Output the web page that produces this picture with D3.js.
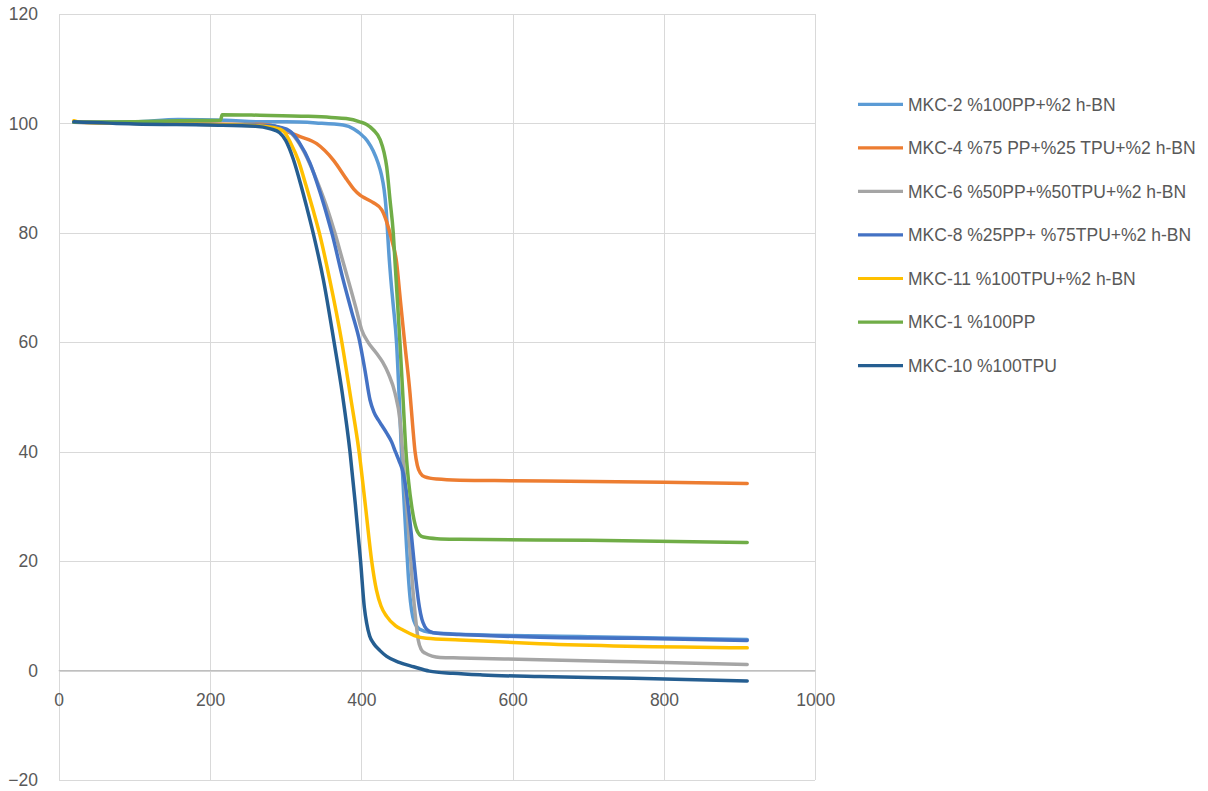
<!DOCTYPE html>
<html>
<head>
<meta charset="utf-8">
<script src="https://cdn.jsdelivr.net/npm/d3@7"></script>
<style>
  html, body { margin: 0; padding: 0; background: #ffffff; }
  svg { display: block; }
  text { font-family: "Liberation Sans", Arial, sans-serif; }
</style>
</head>
<body>
<svg id="chart" width="1208" height="791"></svg>
<script>
// TGA curves: temperature (°C) vs remaining mass (%)
const seriesNames = [
  "MKC-2 %100PP+%2 h-BN",
  "MKC-4 %75 PP+%25 TPU+%2 h-BN",
  "MKC-6 %50PP+%50TPU+%2 h-BN",
  "MKC-8 %25PP+ %75TPU+%2 h-BN",
  "MKC-11 %100TPU+%2 h-BN",
  "MKC-1 %100PP",
  "MKC-10 %100TPU"
];

const mkc2 = [[20,100.2],[100,100.3],[158,100.7],[220,100.6],[266,100.3],[300,100.3],[340,100.1],[376,99.7],[390,99.0],[398,98.2],[408,96.8],[415.6,95.0],[422,92.8],[426.6,90.6],[430,88],[432.5,84.8],[434.5,80.5],[436.5,76],[439,71.5],[442,67],[446.5,60],[450,50],[453,40],[456,32],[459,24.5],[462,17.5],[465,12.5],[468,9.8],[472,8.3],[478,7.5],[490,7.0],[520,6.7],[700,6.2],[910,5.7]];
const mkc4 = [[20,100.2],[200,99.9],[270,99.8],[285,99.5],[300,98.6],[319,97.6],[341,96.3],[363,93.3],[381,89.7],[390,88.0],[398.3,86.9],[407,86.2],[416,85.5],[427,84.2],[433.5,82.0],[440,78.8],[446.7,74.5],[451,68.5],[455,63],[458,59],[464.3,50.7],[468,44.5],[471,40],[474,37.5],[478,36.1],[484,35.4],[500,35.0],[530,34.8],[600,34.7],[800,34.4],[910,34.2]];
const mkc6 = [[20,100.2],[200,99.8],[280,99.6],[293,99.2],[306,98.4],[318,96.3],[332,92.6],[345,88.2],[356,84.0],[365,80.0],[374,75.6],[385,70.2],[393,66.2],[400.4,62.3],[409,60],[420,58],[428,56.4],[436,54.2],[444.5,50.7],[451,45.8],[455.4,38.3],[460,30],[464,22.6],[468,15],[471,10.5],[475.2,5.6],[479,3.9],[484,3.2],[504,2.4],[530,2.3],[636,2.0],[760,1.6],[910,1.1]];
const mkc8 = [[20,100.2],[200,99.8],[280,99.6],[292,99.3],[305.6,98.6],[318,96.5],[332,92.8],[345,87.6],[356,82.5],[361,80],[376,71.4],[387,65.7],[398,60],[405,54.7],[411.4,49.5],[416.5,47.3],[422.4,45.8],[428,44.6],[433.5,43.4],[440,41.8],[445,40],[450,38.3],[455.4,36.1],[459,33.2],[462,30],[466,25],[469.6,20],[473,15.5],[476.6,11.7],[480,9.4],[484,8.0],[490,7.2],[500,6.8],[530,6.6],[636,6.1],[760,5.9],[910,5.5]];
const mkc11 = [[20,100.5],[30,100.2],[200,99.8],[270,99.5],[285,99.2],[297,98.6],[307,96.3],[316.6,93.3],[327,88.6],[336,84.3],[344.5,80],[358,71.6],[374,60.2],[386,49.8],[397,40],[405.5,30],[413.7,20],[420,14.7],[426,11.8],[433.5,9.9],[445,8.2],[455,7.4],[470,6.4],[486,5.9],[530,5.6],[636,4.9],[910,4.15]];
const mkc1 = [[20,100.2],[100,100.3],[160,100.5],[214,100.6],[216,101.6],[266,101.5],[330,101.3],[360,101.1],[380,100.9],[398,100.3],[407,99.8],[416,98.8],[425,97.0],[430,94.7],[433.5,92.1],[437.9,86],[442.2,80],[444.8,74],[447.5,68],[451,60],[455,50],[459,40],[462.5,34.5],[466.6,30],[470,27.3],[473.2,25.7],[477,24.8],[482,24.4],[500,24.1],[530,24.0],[700,23.8],[910,23.4]];
const mkc10 = [[20,100.3],[100,99.9],[200,99.7],[260,99.5],[280,99.0],[292,98.3],[300,96.9],[310,93.5],[320,88.8],[328,84.6],[337,79.6],[350,71.3],[364,60],[375,50.5],[385,40],[392,30.5],[399,20],[404,11.5],[407,8.7],[411,6.3],[416,5.0],[425,3.6],[433.5,2.6],[450,1.5],[469,0.7],[490,-0.1],[521,-0.5],[560,-0.8],[636,-1.1],[760,-1.4],[910,-1.9]];

const seriesValues = [mkc2, mkc4, mkc6, mkc8, mkc11, mkc1, mkc10];
const seriesColors = ["#5B9BD5", "#ED7D31", "#A5A5A5", "#4472C4", "#FFC000", "#70AD47", "#255E91"];

const xTickValues = [0, 200, 400, 600, 800, 1000];
const yTickValues = [-20, 0, 20, 40, 60, 80, 100, 120];

const svg = d3.select("#chart");
const plot = { left: 58.7, right: 815.3, top: 14, bottom: 780 };

const x = d3.scaleLinear().domain([0, 1000]).range([plot.left, plot.right]);
const y = d3.scaleLinear().domain([-20, 120]).range([plot.bottom, plot.top]);

const textColor = "#595959";
const fontSize = "17.5px";
const tickFmt = d3.format("d");

// gridlines
const vGrid = svg.append("g")
  .attr("transform", `translate(0,${plot.bottom})`)
  .call(d3.axisBottom(x).tickValues(xTickValues).tickSize(-(plot.bottom - plot.top)).tickFormat(""));
const hGrid = svg.append("g")
  .attr("transform", `translate(${plot.left},0)`)
  .call(d3.axisLeft(y).tickValues(yTickValues).tickSize(-(plot.right - plot.left)).tickFormat(""));
[vGrid, hGrid].forEach(g => {
  g.select(".domain").remove();
  g.selectAll(".tick line").attr("stroke", "#D9D9D9").attr("stroke-width", 1).attr("shape-rendering", "crispEdges");
});

// horizontal axis line through zero
svg.append("line")
  .attr("x1", x(0)).attr("x2", x(1000))
  .attr("y1", y(0)).attr("y2", y(0))
  .attr("stroke", "#BFBFBF").attr("stroke-width", 1.2);

// tick labels
const yAxis = svg.append("g")
  .attr("transform", `translate(${plot.left},0)`)
  .call(d3.axisLeft(y).tickValues(yTickValues).tickFormat(tickFmt).tickSize(0).tickPadding(20.7));
const xAxis = svg.append("g")
  .attr("transform", `translate(0,${y(0)})`)
  .call(d3.axisBottom(x).tickValues(xTickValues).tickFormat(tickFmt).tickSize(0).tickPadding(23.5));
[yAxis, xAxis].forEach(g => {
  g.select(".domain").remove();
  g.selectAll("text")
    .attr("fill", textColor)
    .style("font-size", fontSize)
    .style("font-family", "'Liberation Sans', Arial, sans-serif");
});

// curves
const line = d3.line()
  .x(d => x(d[0]))
  .y(d => y(d[1]))
  .curve(d3.curveMonotoneX);

svg.append("g")
  .selectAll("path")
  .data(seriesValues)
  .join("path")
  .attr("d", line)
  .attr("fill", "none")
  .attr("stroke", (d, i) => seriesColors[i])
  .attr("stroke-width", 3.5)
  .attr("stroke-linejoin", "round")
  .attr("stroke-linecap", "round");

// legend
const legend = svg.append("g").attr("transform", "translate(858,104.3)");
const item = legend.selectAll("g")
  .data(seriesNames)
  .join("g")
  .attr("transform", (d, i) => `translate(0,${i * 43.55})`);
item.append("line")
  .attr("x1", 0).attr("x2", 45)
  .attr("y1", 0).attr("y2", 0)
  .attr("stroke", (d, i) => seriesColors[i])
  .attr("stroke-width", 3.2);
item.append("text")
  .attr("x", 50)
  .attr("y", 6.3)
  .attr("fill", textColor)
  .style("font-size", fontSize)
  .text(d => d);
</script>
</body>
</html>
